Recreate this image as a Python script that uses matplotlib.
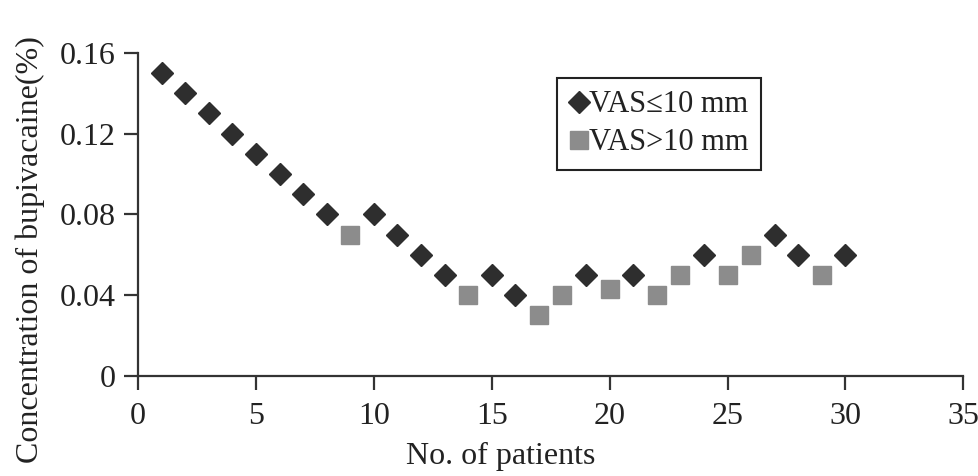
import matplotlib
matplotlib.use('Agg')
import matplotlib.pyplot as plt

# Dati (metodo up-down)
paz_basso = [1, 2, 3, 4, 5, 6, 7, 8, 10, 11, 12, 13, 15, 16, 19, 21, 24, 27, 28, 30]
conc_basso = [0.15, 0.14, 0.13, 0.12, 0.11, 0.10, 0.09, 0.08, 0.08, 0.07, 0.06, 0.05,
              0.05, 0.04, 0.05, 0.05, 0.06, 0.07, 0.06, 0.06]
paz_alto = [9, 14, 17, 18, 20, 22, 23, 25, 26, 29]
conc_alto = [0.07, 0.04, 0.03, 0.04, 0.043, 0.04, 0.05, 0.05, 0.06, 0.05]

etichette = ['VAS\u226410 mm', 'VAS>10 mm']
x_ticks = [0, 5, 10, 15, 20, 25, 30, 35]
y_ticks = [0, 0.04, 0.08, 0.12, 0.16]
y_tick_labels = ['0', '0.04', '0.08', '0.12', '0.16']

plt.rcParams['font.family'] = ['Liberation Serif', 'DejaVu Serif']
plt.rcParams['text.color'] = '#222222'

fig = plt.figure(figsize=(9.79, 4.76), dpi=100)
ax = fig.add_axes([0.141, 0.210, 0.843, 0.679])

ax.plot(paz_basso, conc_basso, linestyle='none', marker='D', markersize=11,
        color='#2e2e2e', label=etichette[0])
ax.plot(paz_alto, conc_alto, linestyle='none', marker='s', markersize=13,
        color='#8c8c8c', label=etichette[1])

ax.set_xlim(0, 35)
ax.set_ylim(0, 0.16)
ax.set_xticks(x_ticks)
ax.set_yticks(y_ticks)
ax.set_yticklabels(y_tick_labels)

for s in ['top', 'right']:
    ax.spines[s].set_visible(False)
for s in ['left', 'bottom']:
    ax.spines[s].set_linewidth(1.6)
    ax.spines[s].set_color('#333333')
ax.tick_params(axis='both', direction='out', length=10, width=1.6, color='#333333',
               labelsize=23, labelcolor='#222222')
ax.tick_params(axis='x', pad=9)
ax.tick_params(axis='y', pad=6)

leg = ax.legend(loc='upper left', bbox_to_anchor=(0.508, 0.922), fontsize=22,
                frameon=True, fancybox=False, edgecolor='#222222', framealpha=1,
                handlelength=0.6, handletextpad=0.05, borderpad=0.4,
                labelspacing=0.3, borderaxespad=0)
leg.get_frame().set_linewidth(1.5)

fig.text(0.511, 0.042, 'No. of patients', ha='center', va='center', fontsize=23)
fig.text(0.031, 0.475, 'Concentration of bupivacaine(%)', ha='center', va='center',
         rotation=90, fontsize=23)

fig.savefig('out.png', dpi=100, facecolor='white')
